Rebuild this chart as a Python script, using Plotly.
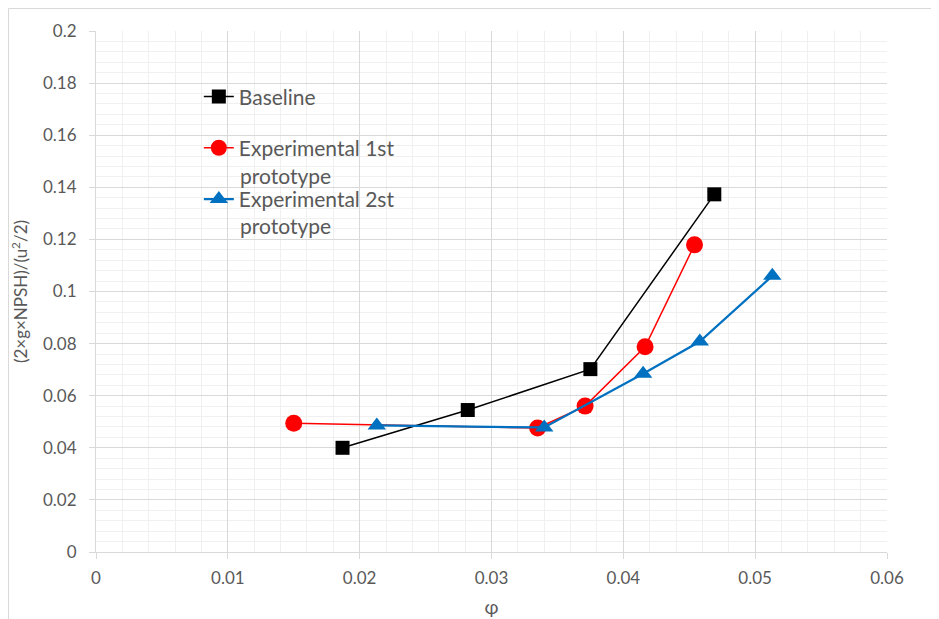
import plotly.graph_objects as go

# ---- data ----
baseline_x = [0.0187, 0.0282, 0.0375, 0.0469]
baseline_y = [0.0400, 0.0545, 0.0702, 0.1373]

exp1_x = [0.0150, 0.0335, 0.0371, 0.04165, 0.0454]
exp1_y = [0.0494, 0.0476, 0.0560, 0.0788, 0.1179]

exp2_x = [0.0213, 0.0340, 0.0415, 0.0458, 0.0513]
exp2_y = [0.0486, 0.0478, 0.0684, 0.0808, 0.1060]

series_names = ["Baseline", "Experimental 1st", "Experimental 2st"]
name_continuations = ["prototype", "prototype"]

x_ticks = [0, 0.01, 0.02, 0.03, 0.04, 0.05, 0.06]
x_ticklabels = ["0", "0.01", "0.02", "0.03", "0.04", "0.05", "0.06"]
y_ticks = [0, 0.02, 0.04, 0.06, 0.08, 0.1, 0.12, 0.14, 0.16, 0.18, 0.2]
y_ticklabels = ["0", "0.02", "0.04", "0.06", "0.08", "0.1", "0.12", "0.14", "0.16", "0.18", "0.2"]

FONT = "Lato"
GRAY = "#595959"

W, H = 931, 611
ML, MR, MT, MB = 88, 52, 23, 67
PW, PH = W - ML - MR, H - MT - MB

fig = go.Figure()
fig.add_trace(go.Scatter(
    x=baseline_x, y=baseline_y, mode="lines+markers", name=series_names[0],
    legendgroup="a",
    line=dict(color="#000000", width=1.5),
    marker=dict(symbol="square", size=14, color="#000000"),
))
fig.add_trace(go.Scatter(
    x=exp1_x, y=exp1_y, mode="lines+markers", name=series_names[1],
    legendgroup="b",
    line=dict(color="#FF0000", width=1.5),
    marker=dict(symbol="circle", size=17, color="#FF0000"),
))
fig.add_trace(go.Scatter(
    x=exp2_x, y=exp2_y, mode="lines+markers", name=series_names[2],
    legendgroup="c",
    line=dict(color="#0070C0", width=2.25),
    marker=dict(symbol="triangle-up", size=16, color="#0070C0"),
))

axis_common = dict(
    showline=True, linecolor="#d9d9d9", linewidth=1,
    ticks="outside", ticklen=6, tickcolor="#d9d9d9",
    showgrid=True, gridcolor="#d9d9d9", gridwidth=1,
    zeroline=False, automargin=False,
    tickfont=dict(family=FONT, size=17, color=GRAY),
)

fig.update_xaxes(
    range=[0, 0.06], tickvals=x_ticks, ticktext=x_ticklabels,
    minor=dict(dtick=0.002, showgrid=True, gridcolor="#f0f0f0", gridwidth=1, ticks=""),
    ticklabelstandoff=5,
    title=dict(text="φ", font=dict(family=FONT, size=19, color=GRAY), standoff=13),
    **axis_common,
)
fig.update_yaxes(
    range=[0, 0.2], tickvals=y_ticks, ticktext=y_ticklabels,
    minor=dict(dtick=0.004, showgrid=True, gridcolor="#f0f0f0", gridwidth=1, ticks=""),
    ticklabelstandoff=9,
    title=dict(text="(2×g×NPSH)/(u<sup>2</sup>/2)", font=dict(family=FONT, size=17, color=GRAY), standoff=12),
    **axis_common,
)

fig.update_layout(
    width=W, height=H,
    margin=dict(l=ML, r=MR, t=MT, b=MB),
    paper_bgcolor="white", plot_bgcolor="white",
    font=dict(family=FONT, color=GRAY),
    showlegend=True,
    legend=dict(
        x=0.130, y=0.913, xanchor="left", yanchor="top",
        bgcolor="rgba(0,0,0,0)", borderwidth=0,
        font=dict(family=FONT, size=21, color=GRAY),
        tracegroupgap=21, itemwidth=30,
    ),
    shapes=[dict(
        type="rect", xref="paper", yref="paper",
        x0=(0.5 - ML) / PW, x1=(W + 5 - ML) / PW,
        y0=(PH + MT - H - 5) / PH, y1=(PH + MT - 0.5) / PH,
        line=dict(color="#d9d9d9", width=1), layer="below",
    )],
    annotations=[
        dict(text=name_continuations[0], xref="paper", yref="paper",
             x=141.5 / PW, y=(PH - 144) / PH, xanchor="left", yanchor="middle",
             showarrow=False, font=dict(family=FONT, size=21, color=GRAY)),
        dict(text=name_continuations[1], xref="paper", yref="paper",
             x=141.5 / PW, y=(PH - 195) / PH, xanchor="left", yanchor="middle",
             showarrow=False, font=dict(family=FONT, size=21, color=GRAY)),
    ],
)

fig.write_html("out.html")
